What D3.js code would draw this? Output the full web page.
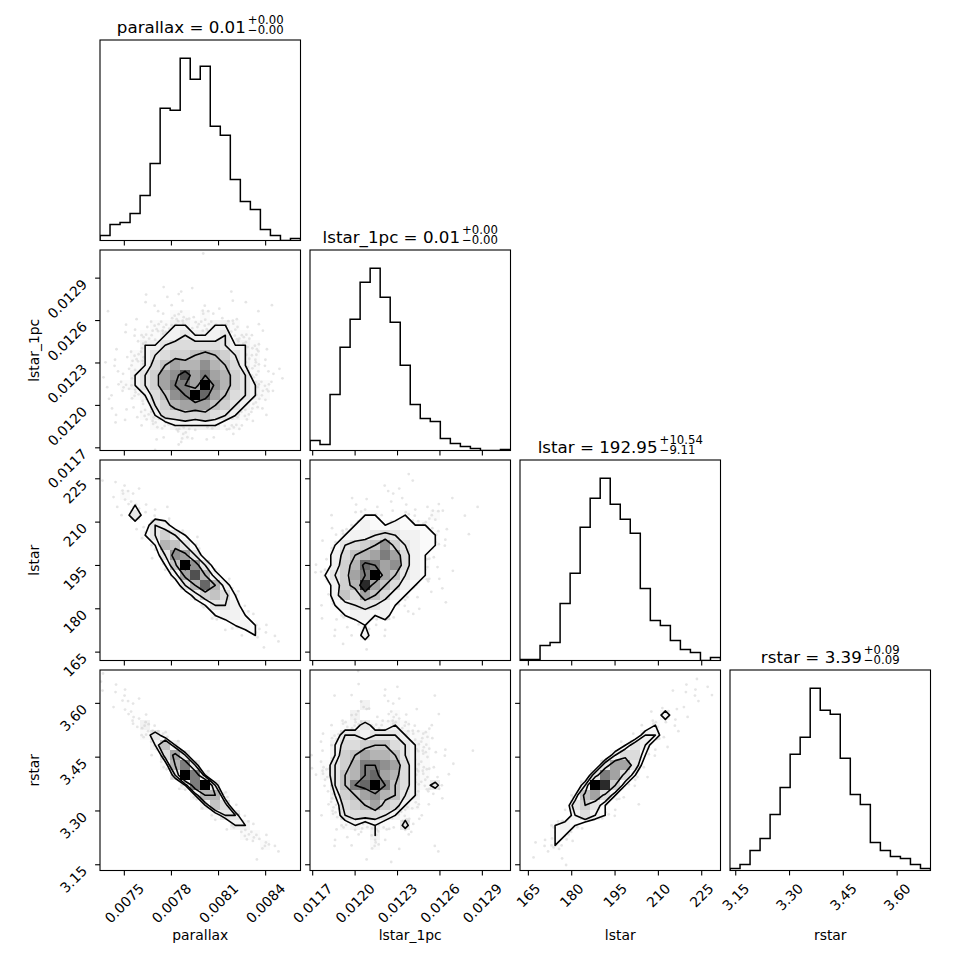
<!DOCTYPE html>
<meta charset="utf-8">
<html>
<head>
    <title>Corner plot</title>
    <script src="https://cdn.jsdelivr.net/npm/d3@7"></script>
</head>
<style>
    body { margin: 0; background: #fff; }
    text { font-family: "DejaVu Sans", sans-serif; fill: #000; }
</style>
<body>
<svg width="970" height="970"></svg>
<script>
    // ***************************************
    //        values
    // ***************************************
    const names = ["parallax", "lstar_1pc", "lstar", "rstar"];
    const domains = [[0.007345, 0.008622], [0.011681, 0.013099], [162.1, 231.5], [3.134, 3.693]];
    const tickValues = [
        [0.0075, 0.0078, 0.0081, 0.0084],
        [0.0117, 0.0120, 0.0123, 0.0126, 0.0129],
        [165, 180, 195, 210, 225],
        [3.15, 3.30, 3.45, 3.60]
    ];
    const tickLabels = [
        ["0.0075", "0.0078", "0.0081", "0.0084"],
        ["0.0117", "0.0120", "0.0123", "0.0126", "0.0129"],
        ["165", "180", "195", "210", "225"],
        ["3.15", "3.30", "3.45", "3.60"]
    ];
    const titleMain = ["parallax = 0.01", "lstar_1pc = 0.01", "lstar = 192.95", "rstar = 3.39"];
    const titleUp = ["+0.00", "+0.00", "+10.54", "+0.09"];
    const titleDown = ["\u22120.00", "\u22120.00", "\u22129.11", "\u22120.09"];

    // 1D histogram counts, 20 bins each
    const histParallax = [5, 16, 18, 27, 45, 77, 132, 130, 182, 161, 174, 114, 105, 61, 39, 31, 11, 5, 0, 2];
    const histLstar1pc = [10, 6, 56, 103, 131, 168, 182, 153, 128, 85, 46, 32, 29, 12, 7, 4, 2, 0, 0, 1];
    const histLstar = [1, 1, 15, 18, 57, 87, 133, 162, 182, 156, 141, 127, 72, 40, 35, 20, 11, 8, 0, 3];
    const histRstar = [2, 6, 20, 32, 56, 83, 116, 133, 182, 160, 156, 112, 76, 66, 28, 20, 14, 12, 6, 2];

    // 2D histograms, 20x20, one base-36 digit per cell, first string = top row
    const gridLstar1pcParallax = [
        "00000000001000000000", "00000000000000000000", "00000000000000000000", "00000010010000000000",
        "00001011100001000000", "00001101101101100100", "10010115515111010000", "00111558855885110000",
        "00115588b888b5511000", "010188bdddddb8851000", "01158bdffhjhfb851000", "11158dhljjnjhd851100",
        "1118bflntlpljfb51110", "1158bflpplznjfb85100", "11158dhnpzrlhdb85100", "01115bfjlllhfb851000",
        "011158ddfdfdb8511000", "01001558888855110000", "00000111511101000000", "00000101100000000000"
    ];
    const gridLstarParallax = [
        "00000000000000000000", "00000000000000000000", "11110000000000000000", "01510000000000000000",
        "01151110000000000000", "001b1110000000000000", "00011b81000000000000", "00005bfb510000000000",
        "000005jhb50000000000", "000001bnlb1000000000", "0000005hznb100000000", "00000008ltj810000000",
        "00000000bjrj81000000", "0000000008fhd5000000", "00000000005bb8100000", "00000000000588510000",
        "00000000000015851000", "00000000000000151100", "00000000000000001100", "00000000000000000000"
    ];
    const gridLstarLstar1pc = [
        "00000000000000000000", "00000000010000000000", "00000001101000000000", "00001101110000100000",
        "00001110111110001000", "00101551151151010000", "00115855855511000000", "001588bdb88551010000",
        "015bdfhnfb8551000000", "018dhjlpld8510000000", "118fjrplnd8510000000", "15bflpzlhb8510100000",
        "018fjwlhd85101000000", "018hdlhd851010000000", "0158bdb8511001000000", "01158858111000000000",
        "00111511000000000000", "00101801000000000000", "00010100000000000000", "00000000000000000000"
    ];
    const gridRstarParallax = [
        "10000000000000000000", "11100000000000000000", "11110000000000000000", "01310000000000000000",
        "00131000000000000000", "00038100000000000000", "00005b50000000000000", "000008h8000000000000",
        "000001dlb00000000000", "0000005jpb0000000000", "0000000bzp8000000000", "000000018pzb00000000",
        "0000000008jj50000000", "00000000008hd1000000", "000000000005bb100000", "00000000000018810000",
        "00000000000000551000", "00000000000000015100", "00000000000000010100", "00000000000000000000"
    ];
    const gridRstarLstar1pc = [
        "00001000000000000000", "00001001100000000000", "00101001100010000000", "00000801101000000000",
        "00008011510010000000", "00155b55851110000000", "015bb8bbb85510000000", "018ddfhhdb8501000000",
        "118fhljjhb8511001000", "15bfjppnld8510100000", "15bhjprljd8511000000", "01bhprzphd85b1000000",
        "018fhlnjhb8111000000", "015dfhlfd85100000000", "015bdddb851100000000", "001585851b1000000000",
        "00111181011000000000", "00101050100010000000", "00000100000010000000", "00000000100000000000"
    ];
    const gridRstarLstar = [
        "00000000000000000100", "00000000000000001110", "00000000000000011101", "00000000000000111100",
        "00000000000001811000", "00000000000015110000", "00000000000188110000", "00000000005b81100000",
        "0000000008dd51000000", "00000000bllb10000000", "0000000bpld510000000", "0000008zwf5100000000",
        "000005hld51000000000", "00001bfb510100000000", "000008d8510000000000", "00058510000000000000",
        "00155100000000000000", "01151100000000000000", "01101000000000000000", "00001000000000000000"
    ];

    const hists = [histParallax, histLstar1pc, histLstar, histRstar];
    const grids = {
        "10": gridLstar1pcParallax, "20": gridLstarParallax, "21": gridLstarLstar1pc,
        "30": gridRstarParallax, "31": gridRstarLstar1pc, "32": gridRstarLstar
    };

    // ***************************************
    //        layout
    // ***************************************
    const svg = d3.select("svg");
    const defs = svg.append("defs");
    const colX = [100, 310, 520, 730];
    const rowY = [40, 250, 460, 670];
    const side = 200.5;
    const tickLen = 4.9;
    const nBins = 20;
    const maxDots = 4;
    // sigma levels as used by corner
    const sigmaLevels = [0.5, 1, 1.5, 2].map(s => 1 - Math.exp(-0.5 * s * s));
    // fixed spots inside a cell where the samples of that cell are drawn
    const dotSpots = [[0.3, 0.35], [0.72, 0.68], [0.55, 0.2], [0.2, 0.8], [0.85, 0.4], [0.45, 0.55],
        [0.65, 0.9], [0.1, 0.15], [0.9, 0.85], [0.35, 0.7], [0.6, 0.45], [0.15, 0.5], [0.8, 0.1],
        [0.5, 0.95], [0.25, 0.05]];

    const xScale = domains.map((d, k) => d3.scaleLinear().domain(d).range([colX[k], colX[k] + side]));
    const yScale = domains.map((d, k) => d3.scaleLinear().domain(d).range([rowY[k] + side, rowY[k]]));

    function contourLevels(H) {
        const flat = H.flat().sort((a, b) => b - a);
        const tot = d3.sum(flat);
        let cum = 0;
        const sm = flat.map(v => (cum += v) / tot);
        let V = sigmaLevels.map(l => {
            let v = flat[0];
            for (let k = 0; k < flat.length; k++) if (sm[k] <= l) v = flat[k];
            return v;
        });
        V.sort((a, b) => a - b);
        let dup = V.findIndex((v, k) => k < V.length - 1 && V[k + 1] === v);
        while (dup >= 0) {
            V[dup] *= 1 - 1e-4;
            V.sort((a, b) => a - b);
            dup = V.findIndex((v, k) => k < V.length - 1 && V[k + 1] === v);
        }
        return V;
    }

    function padGrid(H) {
        const n = H.length, m = H[0].length;
        const mn = d3.min(H.flat());
        const H2 = d3.range(n + 4).map(() => d3.range(m + 4).map(() => mn));
        for (let r = 0; r < n; r++) for (let c = 0; c < m; c++) H2[r + 2][c + 2] = H[r][c];
        for (let r = 0; r < n; r++) { H2[r + 2][1] = H[r][0]; H2[r + 2][m + 2] = H[r][m - 1]; }
        for (let c = 0; c < m; c++) { H2[1][c + 2] = H[0][c]; H2[n + 2][c + 2] = H[n - 1][c]; }
        H2[1][1] = H[0][0]; H2[1][m + 2] = H[0][m - 1];
        H2[n + 2][1] = H[n - 1][0]; H2[n + 2][m + 2] = H[n - 1][m - 1];
        return H2;
    }

    function ringsPath(geom, fx, fy) {
        return geom.coordinates.map(poly => poly.map(ring =>
            "M" + ring.map(p => fx(p[0]).toFixed(2) + "," + fy(p[1]).toFixed(2)).join("L") + "Z"
        ).join("")).join("");
    }

    function drawPanel(i, j) {
        const X = xScale[j];
        const x0 = colX[j], y0 = rowY[i];
        const clipId = `clip${i}${j}`;
        defs.append("clipPath").attr("id", clipId)
            .append("rect").attr("x", x0).attr("y", y0).attr("width", side).attr("height", side);
        const g = svg.append("g");
        const inner = g.append("g").attr("clip-path", `url(#${clipId})`);

        if (i === j) {
            const counts = hists[i];
            const [d0, d1] = domains[i];
            const edges = d3.range(nBins + 1).map(k => d0 + k * (d1 - d0) / nBins);
            const yc = d3.scaleLinear().domain([0, 1.1 * d3.max(counts)]).range([y0 + side, y0]);
            const pts = [[edges[0], 0]];
            counts.forEach((c, k) => { pts.push([edges[k], c], [edges[k + 1], c]); });
            pts.push([edges[nBins], 0]);
            inner.append("path")
                .attr("d", d3.line().x(p => X(p[0])).y(p => yc(p[1]))(pts))
                .attr("fill", "none").attr("stroke", "#000").attr("stroke-width", 1.5)
                .attr("stroke-linejoin", "miter");
        } else {
            const Y = yScale[i];
            const H = grids[`${i}${j}`].map(s => [...s].map(ch => parseInt(ch, 36)));
            const hmax = d3.max(H.flat());
            const [dx0, dx1] = domains[j], [dy0, dy1] = domains[i];
            const dwx = (dx1 - dx0) / nBins, dwy = (dy1 - dy0) / nBins;
            const cellX = c => X(dx0 + c * dwx);
            const cellY = r => Y(dy1 - r * dwy);

            // data points, a few per occupied cell
            const dots = [];
            H.forEach((row, r) => row.forEach((v, c) => {
                const s0 = (r * 7 + c * 3) % dotSpots.length;
                for (let k = 0; k < Math.min(v, maxDots); k++) {
                    const sp = dotSpots[(s0 + k) % dotSpots.length];
                    dots.push([c + sp[0], r + sp[1]]);
                }
            }));
            inner.append("g").selectAll("circle").data(dots).join("circle")
                .attr("cx", d => cellX(d[0])).attr("cy", d => cellY(d[1]))
                .attr("r", 1.4).attr("fill", "#000").attr("fill-opacity", 0.1);

            // contours
            const V = contourLevels(H);
            const H2 = padGrid(H);
            const conts = d3.contours().size([nBins + 4, nBins + 4]).thresholds(V)(H2.flat());
            const fx = gx => cellX(gx - 2);
            const fy = gy => cellY(gy - 2);

            inner.append("path").attr("d", ringsPath(conts[0], fx, fy))
                .attr("fill", "#fff").attr("fill-rule", "evenodd").attr("stroke", "none");

            // density cells
            const cells = [];
            H.forEach((row, r) => row.forEach((v, c) => { if (v > 0) cells.push({r, c, v}); }));
            inner.append("g").selectAll("rect").data(cells).join("rect")
                .attr("x", d => cellX(d.c)).attr("y", d => cellY(d.r))
                .attr("width", d => cellX(d.c + 1) - cellX(d.c))
                .attr("height", d => cellY(d.r + 1) - cellY(d.r))
                .attr("fill", d => { const t = Math.round(255 * (1 - d.v / hmax)); return `rgb(${t},${t},${t})`; })
                .attr("fill-opacity", d => d.v / hmax)
                .attr("shape-rendering", "crispEdges");

            inner.append("g").selectAll("path").data(conts).join("path")
                .attr("d", d => ringsPath(d, fx, fy))
                .attr("fill", "none").attr("stroke", "#000").attr("stroke-width", 1.6)
                .attr("stroke-linejoin", "round");

            // left ticks
            const Yt = tickValues[i];
            g.append("g").selectAll("line").data(Yt).join("line")
                .attr("x1", x0).attr("x2", x0 - tickLen)
                .attr("y1", d => Y(d)).attr("y2", d => Y(d))
                .attr("stroke", "#000").attr("stroke-width", 1.1);
            if (j === 0) {
                g.append("g").selectAll("text").data(Yt).join("text")
                    .attr("x", 88).attr("y", d => Y(d) + 7)
                    .attr("text-anchor", "end")
                    .attr("transform", d => `rotate(-45, 88, ${Y(d) + 7})`)
                    .style("font-size", "13.9px")
                    .text((d, k) => tickLabels[i][k]);
            }
        }

        // bottom ticks
        const Xt = tickValues[j];
        const yb = y0 + side;
        g.append("g").selectAll("line").data(Xt).join("line")
            .attr("x1", d => X(d)).attr("x2", d => X(d))
            .attr("y1", yb).attr("y2", yb + tickLen)
            .attr("stroke", "#000").attr("stroke-width", 1.1);
        if (i === 3) {
            g.append("g").selectAll("text").data(Xt).join("text")
                .attr("x", d => X(d)).attr("y", yb)
                .attr("text-anchor", "middle").attr("dominant-baseline", "central")
                .style("font-size", "13.9px")
                .text((d, k) => tickLabels[j][k])
                .each(function (d) {
                    const L = this.getComputedTextLength();
                    const cy = yb + tickLen + 4.9 + 0.707 * (L + 16.2) / 2;
                    d3.select(this).attr("y", cy)
                        .attr("transform", `rotate(-45, ${X(d)}, ${cy})`);
                });
        }

        // frame
        g.append("rect").attr("x", x0).attr("y", y0).attr("width", side).attr("height", side)
            .attr("fill", "none").attr("stroke", "#000").attr("stroke-width", 1.1);
    }

    names.forEach((nm, i) => {
        for (let j = 0; j <= i; j++) drawPanel(i, j);
    });

    // titles over the diagonal: one text, scripts as tspans stacked
    names.forEach((nm, i) => {
        const base = rowY[i] - 7.5;
        const t = svg.append("text").attr("y", base).style("font-size", "16.7px");
        t.append("tspan").attr("x", 0).text(titleMain[i]);
        const mw = t.node().getComputedTextLength();
        t.append("tspan").attr("x", mw + 2).attr("y", base - 8.2).style("font-size", "11.7px").text(titleUp[i]);
        t.append("tspan").attr("x", mw + 2).attr("y", base + 1.2).style("font-size", "11.7px").text(titleDown[i]);
        const tw = t.node().getBBox().width;
        t.attr("transform", `translate(${colX[i] + side / 2 - tw / 2},0)`);
    });

    // axis labels
    svg.append("g").selectAll("text").data(names).join("text")
        .attr("x", (d, k) => colX[k] + side / 2).attr("y", 940)
        .attr("text-anchor", "middle").style("font-size", "13.9px")
        .text(d => d);
    svg.append("g").selectAll("text").data(names.slice(1)).join("text")
        .attr("transform", (d, k) => `translate(38.5, ${rowY[k + 1] + side / 2}) rotate(-90)`)
        .attr("text-anchor", "middle").style("font-size", "13.9px")
        .text(d => d);
</script>
</body>
</html>
